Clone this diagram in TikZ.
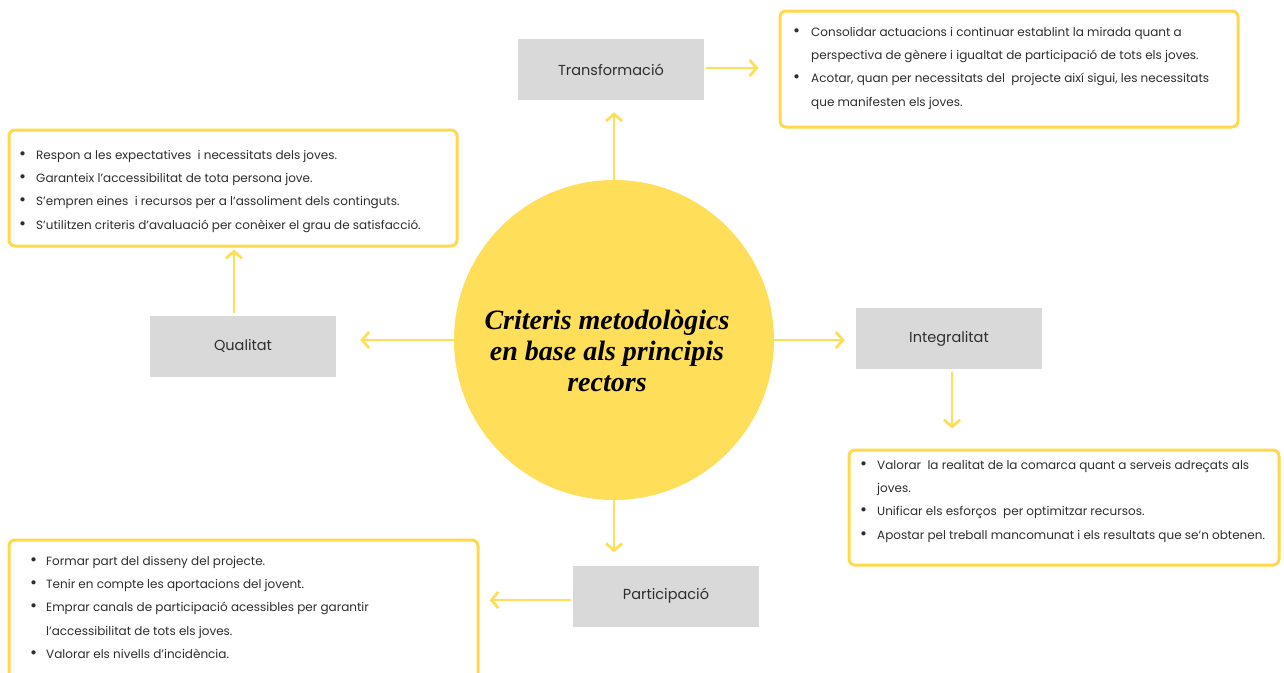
\documentclass[tikz,border=0pt]{standalone}
\usepackage{fontspec}
\setmainfont{Poppins}
\newfontfamily\titlefont{Liberation Serif}
\usetikzlibrary{arrows.meta}
\definecolor{yel}{HTML}{FFDE59}
\definecolor{ybord}{HTML}{FFD94A}
\definecolor{gbox}{HTML}{D9D9D9}
\definecolor{txt}{HTML}{2E2E2E}
\tikzset{
  arr/.style={draw=yel, line width=2.8pt, -{Straight Barb[length=7pt,width=16pt]}},
  graybox/.style={fill=gbox, draw=none, minimum width=186pt, minimum height=61pt, inner sep=0pt, text=txt, font=\fontsize{14.5}{16}\selectfont},
  listbox/.style={draw=ybord, line width=3pt, rounded corners=6pt, fill=white, inner sep=0pt},
  listtext/.style={anchor=base west, inner sep=0pt, text=txt, font=\fontsize{12}{23.4}\selectfont},
}
\newcommand{\bl}{{\fontsize{17}{17}\selectfont\textbullet}}
\begin{document}
\begin{tikzpicture}[x=1pt,y=-1pt]
\useasboundingbox[fill=white] (0,0) rectangle (1284,672);
% centre
\node[circle, fill=yel, minimum size=320pt, inner sep=0pt] (C) at (614,340) {};
\node[align=center, font=\titlefont\bfseries\itshape\fontsize{28}{31}\selectfont] (title) at (607,351) {Criteris metodològics\\en base als principis\\rectors};
% gray boxes
\node[graybox] (T) at (611,69.5) {Transformació};
\node[graybox] (Q) at (243,346) {Qualitat};
\node[graybox] (I) at (949,338.5) {Integralitat};
\node[graybox] (P) at (666,596) {Participació};
% list boxes
\node[listbox, minimum width=458pt, minimum height=116pt] (TL) at (1009,69) {};
\node[listbox, minimum width=448pt, minimum height=116pt] (QL) at (233,188) {};
\node[listbox, minimum width=430pt, minimum height=115pt] (IL) at (1064,507.5) {};
\node[listbox, minimum width=469pt, minimum height=150pt] (PL) at (243.5,615) {};
% list texts
\node[listtext] (TLt) at (793,36) {\begin{tabular}[t]{@{}p{18pt}@{}l@{}}
\bl & Consolidar actuacions i continuar establint la mirada quant a\\
 & perspectiva de gènere i igualtat de participació de tots els joves.\\
\bl & Acotar, quan per necessitats del\ \ projecte així sigui, les necessitats\\
 & que manifesten els joves.
\end{tabular}};
\node[listtext] (QLt) at (19,159) {\begin{tabular}[t]{@{}p{17pt}@{}l@{}}
\bl & Respon a les expectatives\ \ i necessitats dels joves.\\
\bl & Garanteix l'accessibilitat de tota persona jove.\\
\bl & S'empren eines\ \ i recursos per a l'assoliment dels continguts.\\
\bl & S'utilitzen criteris d'avaluació per conèixer el grau de satisfacció.
\end{tabular}};
\node[listtext] (ILt) at (860,469) {\begin{tabular}[t]{@{}p{17pt}@{}l@{}}
\bl & Valorar\ \ la realitat de la comarca quant a serveis adreçats als\\
 & joves.\\
\bl & Unificar els esforços\ \ per optimitzar recursos.\\
\bl & Apostar pel treball mancomunat i els resultats que se'n obtenen.
\end{tabular}};
\node[listtext] (PLt) at (30,565) {\begin{tabular}[t]{@{}p{16pt}@{}l@{}}
\bl & Formar part del disseny del projecte.\\
\bl & Tenir en compte les aportacions del jovent.\\
\bl & Emprar canals de participació acessibles per garantir\\
 & l'accessibilitat de tots els joves.\\
\bl & Valorar els nivells d'incidència.
\end{tabular}};
% arrows
\draw[arr, shorten >=12pt] (C.north) -- (C.north |- T.south);
\draw[arr, shorten >=24pt] (C.west) -- (C.west -| Q.east);
\draw[arr, shorten >=11pt] (C.east) -- (C.east -| I.west);
\draw[arr, shorten >=13pt] (C.south) -- (C.south |- P.north);
\draw[arr, shorten <=2pt, shorten >=20pt] (T.east |- 0,68) -- (TL.west |- 0,68);
\draw[arr, shorten <=2pt, shorten >=2pt] (Q.north -| 234,0) -- (QL.south -| 234,0);
\draw[arr, shorten <=3pt, shorten >=20pt] (I.south -| 952,0) -- (IL.north -| 952,0);
\draw[arr, shorten <=2pt, shorten >=10pt] (P.west |- 0,600) -- (PL.east |- 0,600);
\end{tikzpicture}
\end{document}
